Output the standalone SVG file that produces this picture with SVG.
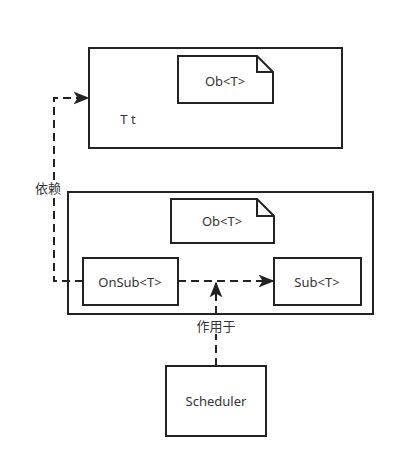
<svg xmlns="http://www.w3.org/2000/svg" width="405" height="468" viewBox="0 0 405 468">
<defs>
<style>
.box{fill:#fff;stroke:#222;stroke-width:2}
.t{font-family:"Noto Sans","Liberation Sans",sans-serif;font-size:13px;fill:#333;text-anchor:middle;dominant-baseline:central}
.lbl{font-family:"Noto Sans","Noto Sans CJK SC",sans-serif;font-size:13px;fill:#333;text-anchor:middle;dominant-baseline:central}
.c{fill:none;stroke:#222;stroke-width:2;stroke-dasharray:8 5}
</style>
<marker id="ah" viewBox="0 0 10 10" refX="9" refY="5" markerWidth="16" markerHeight="16" markerUnits="userSpaceOnUse" orient="auto">
<path d="M0,1 L10,5 L0,9 L2.5,5 Z" fill="#222"/>
</marker>
</defs>
<rect width="405" height="468" fill="#fff"/>
<g id="outer1">
<rect class="box" x="89" y="48" width="253" height="100"/>
<text class="t" x="128" y="119">T t</text>
</g>
<g id="note1">
<path class="box" d="M178,56 H257 L273,72 V103 H178 Z"/>
<path d="M257,56 V72 H273" fill="none" stroke="#222" stroke-width="2"/>
<text class="t" x="225" y="81">Ob&lt;T&gt;</text>
</g>
<g id="outer2">
<rect class="box" x="68" y="192" width="305" height="122"/>
</g>
<g id="note2">
<path class="box" d="M171,199 H257 L274,216 V243 H171 Z"/>
<path d="M257,199 V216 H274" fill="none" stroke="#222" stroke-width="2"/>
<text class="t" x="222" y="221">Ob&lt;T&gt;</text>
</g>
<g id="onsub">
<rect class="box" x="83" y="258" width="95" height="47"/>
<text class="t" x="130" y="282">OnSub&lt;T&gt;</text>
</g>
<g id="sub">
<rect class="box" x="274" y="258" width="87" height="47"/>
<text class="t" x="317" y="282">Sub&lt;T&gt;</text>
</g>
<g id="scheduler">
<rect class="box" x="166" y="366" width="100" height="70"/>
<text class="t" x="216" y="401">Scheduler</text>
</g>
<g id="connectors">
<path class="c" d="M83,281 H54 V98 H88" marker-end="url(#ah)"/>
<path class="c" d="M178,281 H273" marker-end="url(#ah)"/>
<path class="c" d="M216,366 V283" marker-end="url(#ah)"/>
<rect x="30" y="180" width="36" height="16" fill="#fff"/>
<text class="lbl" x="48" y="188">依赖</text>
<rect x="196" y="318" width="41" height="16" fill="#fff"/>
<text class="lbl" x="216" y="326">作用于</text>
</g>
</svg>
